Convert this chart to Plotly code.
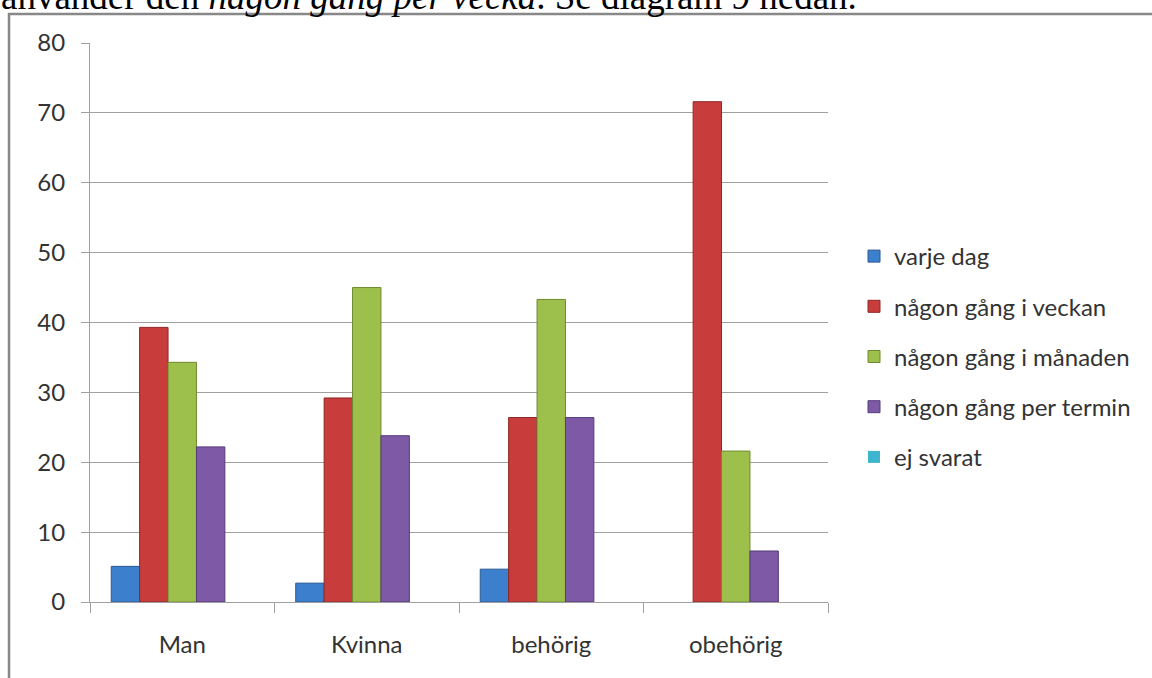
import plotly.graph_objects as go

categories = ["Man", "Kvinna", "behörig", "obehörig"]
series_names = ["varje dag", "någon gång i veckan", "någon gång i månaden",
                "någon gång per termin", "ej svarat"]
varje_dag = [5.1, 2.7, 4.7, 0]
veckan = [39.3, 29.2, 26.4, 71.6]
manaden = [34.3, 45.0, 43.3, 21.6]
termin = [22.2, 23.8, 26.4, 7.3]
ej_svarat = [0, 0, 0, 0]
y_ticks = [0, 10, 20, 30, 40, 50, 60, 70, 80]

values = [varje_dag, veckan, manaden, termin, ej_svarat]
fills = ["#3C7FCC", "#C93C3C", "#9DC04C", "#7D59A6", "#3DB5CF"]
edges = ["#2A5A94", "#8E2626", "#6E8A2E", "#563C7A", "#2A8297"]

FONT = "Lato"
FS = 24
fig = go.Figure()
for i, (name, vals) in enumerate(zip(series_names, values)):
    fig.add_trace(go.Bar(
        name=name, x=categories, y=vals, legendgroup=f"g{i}",
        marker=dict(color=fills[i],
                    line=dict(color=edges[i],
                              width=[1 if v > 0 else 0 for v in vals])),
    ))

L, R, T, B = 90, 324, 43, 76
W, H = 1152, 678
pw, ph = W - L - R, H - T - B

def px_x(x):
    return (x - L) / pw

def px_y(y):
    return (H - B - y) / ph

fig.update_layout(
    width=W, height=H,
    margin=dict(l=L, r=R, t=T, b=B),
    paper_bgcolor="white", plot_bgcolor="white",
    barmode="group", bargap=0.23, bargroupgap=0,
    font=dict(family=FONT, size=FS, color="#333333"),
    legend=dict(x=px_x(854), y=px_y(234), xanchor="left", yanchor="top",
                font=dict(family=FONT, size=FS, color="#333333"),
                tracegroupgap=16, itemwidth=30, bgcolor="rgba(0,0,0,0)"),
    xaxis=dict(showline=True, linecolor="#a0a0a0", linewidth=1,
               ticks="outside", tickson="boundaries", ticklen=10,
               tickcolor="#a0a0a0", showgrid=False,
               tickfont=dict(family=FONT, size=FS, color="#333333"),
               ticklabelstandoff=21),
    yaxis=dict(range=[0, 80], tickvals=y_ticks, showline=True,
               linecolor="#a0a0a0", linewidth=1, ticks="outside",
               ticklen=8, tickcolor="#a0a0a0", showgrid=True,
               gridcolor="#a0a0a0", gridwidth=1, zeroline=False,
               tickfont=dict(family=FONT, size=FS, color="#333333"),
               ticklabelstandoff=11),
    shapes=[dict(type="rect", xref="paper", yref="paper",
                 x0=px_x(9), x1=px_x(1200), y0=px_y(14), y1=px_y(720),
                 line=dict(color="#888888", width=2.5),
                 fillcolor="rgba(0,0,0,0)", layer="below")],
    annotations=[dict(
        text="använder den <i>någon gång per vecka</i>. Se diagram 9 nedan.",
        xref="paper", yref="paper", x=px_x(-1), y=px_y(-4),
        xanchor="left", yanchor="middle", showarrow=False,
        font=dict(family="Liberation Serif", size=37, color="black"))],
)

fig.write_html("out.html", config={"displayModeBar": False},
               post_script="document.body.style.margin='0';document.body.style.overflow='hidden';")
